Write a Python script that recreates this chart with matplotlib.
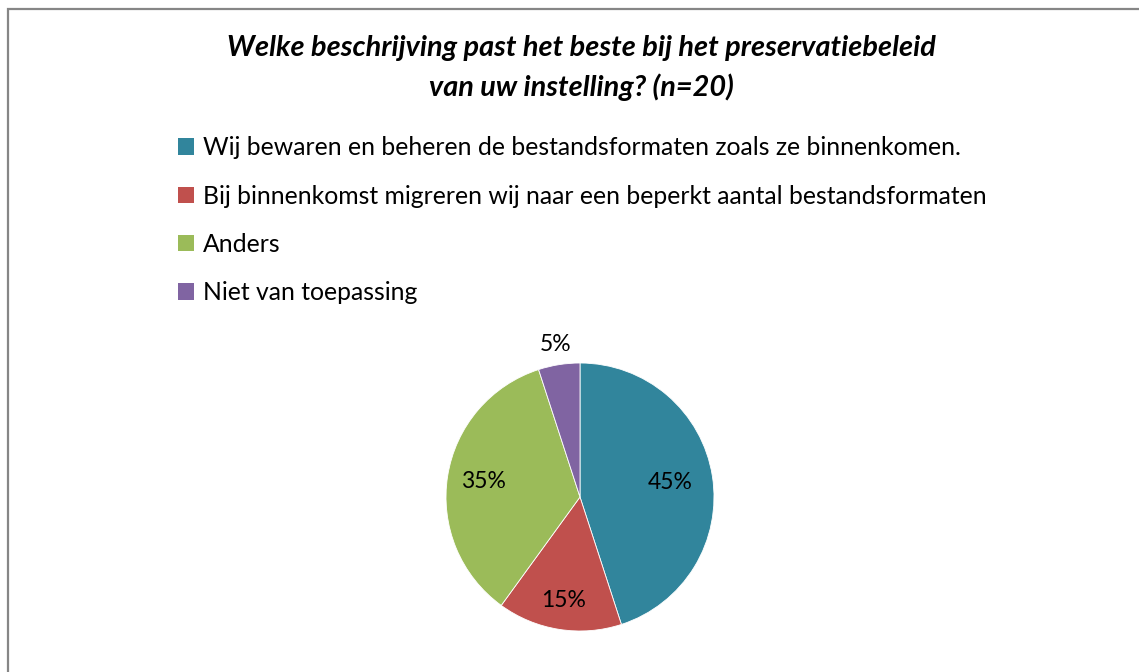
import matplotlib.pyplot as plt
import numpy as np
from matplotlib.patches import Patch, Rectangle

# data
categories = ['Wij bewaren en beheren de bestandsformaten zoals ze binnenkomen.',
              'Bij binnenkomst migreren wij naar een beperkt aantal bestandsformaten',
              'Anders',
              'Niet van toepassing']
values = [45, 15, 35, 5]
colors = ['#31859C', '#C0504D', '#9BBB59', '#8064A2']
label_dist = [0.68, 0.78, 0.73, 1.15]

plt.rcParams['font.family'] = ['Lato', 'DejaVu Sans']

W, H = 1139, 672
fig = plt.figure(figsize=(W / 100, H / 100), dpi=100)

# grey frame of the chart area (runs off right and bottom)
fig.patches.append(Rectangle((8 / W, -0.05), 1.1, 1 - 9 / H + 0.05,
                             transform=fig.transFigure, fill=False,
                             edgecolor='#868686', linewidth=1.6))

fig.text(581 / W, 1 - 48 / H, 'Welke beschrijving past het beste bij het preservatiebeleid',
         ha='center', va='center', fontsize=20.8, fontweight='bold', style='italic')
fig.text(581 / W, 1 - 87 / H, 'van uw instelling? (n=20)',
         ha='center', va='center', fontsize=20.8, fontweight='bold', style='italic')

# pie
cx, cy, r = 580, 497, 134
ax = fig.add_axes([(cx - r) / W, 1 - (cy + r) / H, 2 * r / W, 2 * r / H])
wedges, _ = ax.pie(values, colors=colors, startangle=90, counterclock=False,
                   radius=1, wedgeprops=dict(edgecolor='white', linewidth=0.6))
ax.set_xlim(-1, 1)
ax.set_ylim(-1, 1)
ax.set_aspect('equal')
ax.set_clip_on(False)
for w, v, d in zip(wedges, values, label_dist):
    ang = np.deg2rad((w.theta1 + w.theta2) / 2)
    ax.text(d * np.cos(ang), d * np.sin(ang), f'{v}%', ha='center', va='center',
            fontsize=16.5)

# legend
handles = [Patch(facecolor=c) for c in colors]
fig.legend(handles, categories, loc='upper left', bbox_to_anchor=(166 / W, 1 - 124 / H),
           frameon=False, fontsize=17.8, handlelength=0.65, handleheight=0.65,
           handletextpad=0.35, labelspacing=1.02, borderpad=0)

plt.savefig('out.png', dpi=100)
